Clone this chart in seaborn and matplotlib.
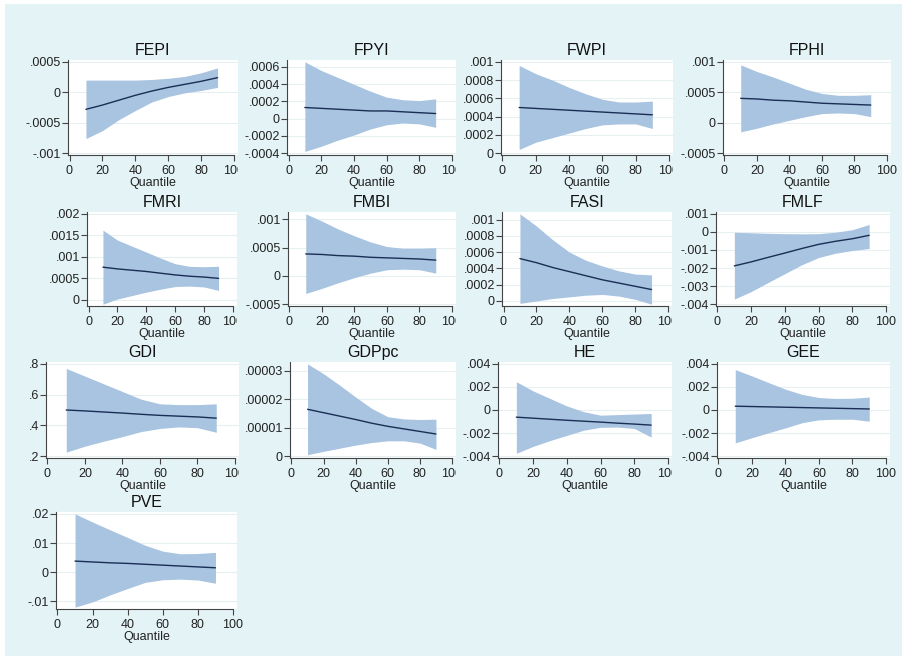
import numpy as np
import matplotlib
matplotlib.use("Agg")
import matplotlib.pyplot as plt
import seaborn as sns
from matplotlib.patches import Rectangle
from matplotlib.transforms import Bbox, TransformedBbox

# quantiles at which the coefficients were estimated
quantiles = [10, 20, 30, 40, 50, 60, 70, 80, 90]

# ---- coefficient, lower bound, upper bound ----
fepi_coef = [-0.00028, -0.00021, -0.00013, -0.00005, 0.00002, 0.00008, 0.00013, 0.00018, 0.00024]
fepi_lo = [-0.00076, -0.00063, -0.00045, -0.00030, -0.00016, -0.00007, -0.00001, 0.00003, 0.00008]
fepi_hi = [0.00020, 0.00020, 0.00020, 0.00020, 0.00021, 0.00023, 0.00026, 0.00032, 0.00040]

fpyi_coef = [0.00013, 0.00012, 0.00011, 0.00010, 0.00009, 0.00009, 0.00008, 0.00007, 0.00006]
fpyi_lo = [-0.00038, -0.00032, -0.00025, -0.00019, -0.00012, -0.00007, -0.00005, -0.00006, -0.00010]
fpyi_hi = [0.00066, 0.00056, 0.00048, 0.00040, 0.00032, 0.00025, 0.00022, 0.00021, 0.00023]

fwpi_coef = [0.00050, 0.00049, 0.00048, 0.00047, 0.00046, 0.00045, 0.00044, 0.00043, 0.00042]
fwpi_lo = [0.00004, 0.00012, 0.00017, 0.00022, 0.00027, 0.00031, 0.00032, 0.00032, 0.00027]
fwpi_hi = [0.00096, 0.00087, 0.00080, 0.00072, 0.00065, 0.00059, 0.00056, 0.00056, 0.00057]

fphi_coef = [0.00040, 0.00039, 0.00037, 0.00036, 0.00034, 0.00032, 0.00031, 0.00030, 0.00029]
fphi_lo = [-0.00015, -0.00009, -0.00002, 0.00004, 0.00010, 0.00015, 0.00016, 0.00015, 0.00010]
fphi_hi = [0.00095, 0.00084, 0.00075, 0.00065, 0.00055, 0.00048, 0.00045, 0.00045, 0.00046]

fmri_coef = [0.00076, 0.00072, 0.00069, 0.00066, 0.00062, 0.00058, 0.00055, 0.00053, 0.00050]
fmri_lo = [-0.00010, 0.00002, 0.00010, 0.00018, 0.00025, 0.00031, 0.00032, 0.00030, 0.00022]
fmri_hi = [0.00162, 0.00139, 0.00125, 0.00111, 0.00097, 0.00084, 0.00078, 0.00077, 0.00078]

fmbi_coef = [0.00039, 0.00038, 0.00036, 0.00035, 0.00033, 0.00032, 0.00031, 0.00030, 0.00028]
fmbi_lo = [-0.00031, -0.00022, -0.00012, -0.00003, 0.00005, 0.00011, 0.00012, 0.00011, 0.00005]
fmbi_hi = [0.00110, 0.00097, 0.00083, 0.00071, 0.00060, 0.00052, 0.00049, 0.00049, 0.00050]

fasi_coef = [0.00052, 0.00047, 0.00041, 0.00036, 0.00031, 0.00026, 0.00022, 0.00018, 0.00014]
fasi_lo = [-0.00003, 0.00000, 0.00003, 0.00005, 0.00007, 0.00008, 0.00006, 0.00002, -0.00004]
fasi_hi = [0.00107, 0.00092, 0.00075, 0.00060, 0.00050, 0.00043, 0.00037, 0.00033, 0.00032]

fmlf_coef = [-0.00188, -0.00166, -0.00141, -0.00117, -0.00092, -0.00069, -0.00052, -0.00038, -0.00019]
fmlf_lo = [-0.00372, -0.00330, -0.00280, -0.00231, -0.00182, -0.00142, -0.00118, -0.00103, -0.00092]
fmlf_hi = [-0.00002, -0.00005, -0.00008, -0.00010, -0.00011, -0.00010, -0.00002, 0.00012, 0.00041]

gdi_coef = [0.500, 0.494, 0.487, 0.480, 0.472, 0.465, 0.460, 0.455, 0.447]
gdi_lo = [0.226, 0.265, 0.297, 0.327, 0.360, 0.380, 0.390, 0.385, 0.355]
gdi_hi = [0.770, 0.720, 0.670, 0.620, 0.570, 0.540, 0.535, 0.535, 0.540]

gdppc_coef = [1.65e-5, 1.53e-5, 1.41e-5, 1.29e-5, 1.16e-5, 1.05e-5, 0.96e-5, 0.87e-5, 0.78e-5]
gdppc_lo = [0.05e-5, 0.17e-5, 0.28e-5, 0.39e-5, 0.48e-5, 0.54e-5, 0.54e-5, 0.46e-5, 0.24e-5]
gdppc_hi = [3.25e-5, 2.90e-5, 2.50e-5, 2.08e-5, 1.68e-5, 1.39e-5, 1.31e-5, 1.29e-5, 1.30e-5]

he_coef = [-0.00062, -0.00071, -0.00080, -0.00089, -0.00097, -0.00105, -0.00114, -0.00122, -0.00131]
he_lo = [-0.00375, -0.00315, -0.00265, -0.00220, -0.00175, -0.00150, -0.00148, -0.00160, -0.00235]
he_hi = [0.00245, 0.00165, 0.00100, 0.00035, -0.00015, -0.00045, -0.00040, -0.00035, -0.00030]

gee_coef = [0.00033, 0.00030, 0.00027, 0.00024, 0.00021, 0.00018, 0.00015, 0.00012, 0.00009]
gee_lo = [-0.00285, -0.00240, -0.00197, -0.00155, -0.00110, -0.00085, -0.00080, -0.00080, -0.00097]
gee_hi = [0.00350, 0.00295, 0.00237, 0.00180, 0.00135, 0.00108, 0.00100, 0.00102, 0.00112]

pve_coef = [0.0038, 0.0035, 0.0032, 0.0030, 0.0027, 0.0024, 0.0021, 0.0018, 0.0015]
pve_lo = [-0.0120, -0.0102, -0.0078, -0.0056, -0.0035, -0.0026, -0.0024, -0.0027, -0.0038]
pve_hi = [0.0200, 0.0172, 0.0145, 0.0119, 0.0092, 0.0072, 0.0063, 0.0064, 0.0068]

# y ticks of each panel
fepi_ticks = [-0.001, -0.0005, 0, 0.0005]
fpyi_ticks = [-0.0004, -0.0002, 0, 0.0002, 0.0004, 0.0006]
fwpi_ticks = [0, 0.0002, 0.0004, 0.0006, 0.0008, 0.001]
fphi_ticks = [-0.0005, 0, 0.0005, 0.001]
fmri_ticks = [0, 0.0005, 0.001, 0.0015, 0.002]
fmbi_ticks = [-0.0005, 0, 0.0005, 0.001]
fasi_ticks = [0, 0.0002, 0.0004, 0.0006, 0.0008, 0.001]
fmlf_ticks = [-0.004, -0.003, -0.002, -0.001, 0, 0.001]
gdi_ticks = [0.2, 0.4, 0.6, 0.8]
gdppc_ticks = [0, 0.00001, 0.00002, 0.00003]
he_ticks = [-0.004, -0.002, 0, 0.002, 0.004]
gee_ticks = [-0.004, -0.002, 0, 0.002, 0.004]
pve_ticks = [-0.01, 0, 0.01, 0.02]

x_ticks = [0, 20, 40, 60, 80, 100]

panels = [
    ("FEPI", fepi_coef, fepi_lo, fepi_hi, fepi_ticks),
    ("FPYI", fpyi_coef, fpyi_lo, fpyi_hi, fpyi_ticks),
    ("FWPI", fwpi_coef, fwpi_lo, fwpi_hi, fwpi_ticks),
    ("FPHI", fphi_coef, fphi_lo, fphi_hi, fphi_ticks),
    ("FMRI", fmri_coef, fmri_lo, fmri_hi, fmri_ticks),
    ("FMBI", fmbi_coef, fmbi_lo, fmbi_hi, fmbi_ticks),
    ("FASI", fasi_coef, fasi_lo, fasi_hi, fasi_ticks),
    ("FMLF", fmlf_coef, fmlf_lo, fmlf_hi, fmlf_ticks),
    ("GDI", gdi_coef, gdi_lo, gdi_hi, gdi_ticks),
    ("GDPpc", gdppc_coef, gdppc_lo, gdppc_hi, gdppc_ticks),
    ("HE", he_coef, he_lo, he_hi, he_ticks),
    ("GEE", gee_coef, gee_lo, gee_hi, gee_ticks),
    ("PVE", pve_coef, pve_lo, pve_hi, pve_ticks),
]

# layout in pixels: left axis line, position of x=100, row, cut last label
layout = [
    (68, 234, 0, True), (287, 452, 0, True), (501, 669, 0, True), (723, 887, 0, False),
    (87, 233, 1, True), (288, 452, 1, True), (502, 668, 1, True), (716, 886, 1, False),
    (46, 235, 2, True), (290, 452, 2, True), (498, 668, 2, True), (717, 886, 2, False),
    (56, 233, 3, False),
]
rows = [(60, 155), (212, 306), (362, 458), (512, 609)]

W, H = 903, 656


def stata_fmt(v):
    if v == 0:
        return "0"
    s = np.format_float_positional(v, trim="-")
    return s.replace("0.", ".", 1)


sns.set_theme(style="white")
plt.rcParams["font.family"] = ["Liberation Sans", "DejaVu Sans"]

fig = plt.figure(figsize=(W / 100, H / 100), dpi=100)
fig.patch.set_facecolor("white")
fig.patches.append(Rectangle((5 / W, 0), 1, 1 - 4 / H, transform=fig.transFigure,
                             facecolor="#e4f3f6", edgecolor="none", zorder=-10))

band_color = "#a8c4e0"
line_color = "#1b2d55"
axis_color = "#444444"

for (name, coef, lo, hi, ticks), (left, x100, r, cut) in zip(panels, layout):
    top, bot = rows[r]
    width = x100 + 4 - left
    ax = fig.add_axes([left / W, 1 - bot / H, width / W, (bot - top) / H])
    ax.set_facecolor("white")

    s = (x100 - left - 1.5) / 100
    xmin, xmax = -1.5 / s, 100 + 4 / s

    ax.fill_between(quantiles, lo, hi, color=band_color, lw=0, zorder=2)
    sns.lineplot(x=quantiles, y=coef, ax=ax, color=line_color, lw=1.0, zorder=3)

    ymin = min(ticks[0], min(lo))
    ymax = max(ticks[-1], max(hi))
    pad = 0.02 * (ymax - ymin)
    ax.set_xlim(xmin, xmax)
    ax.set_ylim(ymin - pad, ymax + pad)

    ax.set_yticks(ticks)
    ax.set_yticklabels([stata_fmt(t) for t in ticks])
    ax.set_xticks(x_ticks)
    ax.set_xticklabels([str(t) for t in x_ticks])
    for t in ticks:
        ax.axhline(t, color="#e8eff1", lw=0.8, zorder=1)

    for sp in ["top", "right"]:
        ax.spines[sp].set_visible(False)
    for sp in ["left", "bottom"]:
        ax.spines[sp].set_color(axis_color)
        ax.spines[sp].set_linewidth(0.8)
    ax.spines["bottom"].set_bounds(xmin, 100)

    ax.tick_params(left=True, bottom=True, direction="out", length=4, width=0.8,
                   color=axis_color, labelsize=9, labelcolor="#222222")
    ax.tick_params(axis="y", pad=1.2)
    ax.tick_params(axis="x", pad=3)
    ax.set_title(name, fontsize=11.5, pad=3.5, color="#111111")
    ax.set_xlabel("Quantile", fontsize=9, labelpad=0, color="#222222")
    ax.set_ylabel("")

    # the right-most label is cut off at the panel edge
    if cut:
        clip = TransformedBbox(Bbox.from_extents(0, 0, (x100 + 4.5) / W, 1), fig.transFigure)
        for lab in ax.get_xticklabels():
            lab.set_clip_on(True)
            lab.set_clip_box(clip)

fig.savefig("out.png", dpi=100, facecolor=fig.get_facecolor())
